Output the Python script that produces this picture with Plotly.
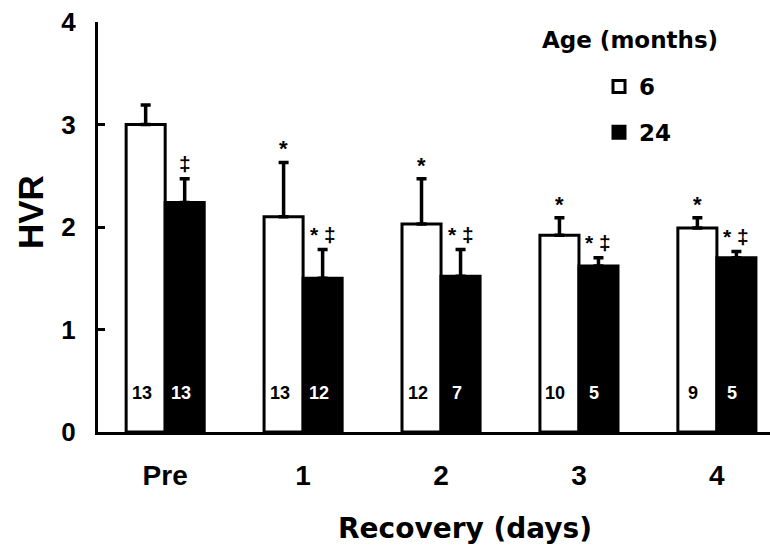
import plotly.graph_objects as go

categories = ["Pre", "1", "2", "3", "4"]
hvr_6 = [3.00, 2.10, 2.03, 1.92, 1.99]
err_6 = [0.19, 0.53, 0.44, 0.17, 0.10]
hvr_24 = [2.24, 1.50, 1.52, 1.62, 1.70]
err_24 = [0.23, 0.28, 0.26, 0.08, 0.06]
n_6 = [13, 13, 12, 10, 9]
n_24 = [13, 12, 7, 5, 5]
sig_6 = ["", "*", "*", "*", "*"]
sig_24 = ["‡", "* ‡", "* ‡", "* ‡", "* ‡"]
y_ticks = [0, 1, 2, 3, 4]

FONT = "Liberation Sans"
xs = list(range(len(categories)))
bar_w = 0.283

# plot-area geometry in px (for paper-coordinate annotations)
L, R, T, B = 98, 0, 22, 118
W, H = 770, 550
pw, ph = W - L - R, H - T - B


def px_x(px):
    return (px - L) / pw


def px_y(py):
    return (H - B - py) / ph


fig = go.Figure()
fig.add_bar(
    x=xs, y=hvr_6, width=bar_w, offset=-bar_w, name="6", legendgroup="a",
    marker=dict(color="white", line=dict(color="black", width=3)),
    error_y=dict(type="data", array=err_6, arrayminus=[0] * len(xs), symmetric=False,
                 color="black", thickness=3.5, width=5),
)
fig.add_bar(
    x=xs, y=hvr_24, width=bar_w, offset=0, name="24", legendgroup="b",
    marker=dict(color="black", line=dict(color="black", width=3)),
    error_y=dict(type="data", array=err_24, arrayminus=[0] * len(xs), symmetric=False,
                 color="black", thickness=3.5, width=5),
)

ann = []
for i in xs:
    ann.append(dict(x=i - bar_w / 2, y=0.38, xref="x", yref="y", text=str(n_6[i]),
                    showarrow=False, xshift=-4, xanchor="center", yanchor="middle",
                    font=dict(family=FONT, size=18, color="black", weight="bold")))
    ann.append(dict(x=i + bar_w / 2, y=0.38, xref="x", yref="y", text=str(n_24[i]),
                    showarrow=False, xshift=-4, xanchor="center", yanchor="middle",
                    font=dict(family=FONT, size=18, color="white", weight="bold")))
    if sig_6[i]:
        ann.append(dict(x=i - bar_w / 2, y=hvr_6[i] + err_6[i], xref="x", yref="y",
                        text=sig_6[i], showarrow=False, xanchor="center", yanchor="bottom",
                        yshift=-1,
                        font=dict(family=FONT, size=22, color="black", weight="bold")))
    ann.append(dict(x=i + bar_w / 2, y=hvr_24[i] + err_24[i], xref="x", yref="y",
                    text=sig_24[i], showarrow=False, xanchor="center", yanchor="bottom",
                    yshift=2,
                    font=dict(family=FONT, size=21, color="black", weight="bold")))

ann.append(dict(x=px_x(630), y=px_y(40), xref="paper", yref="paper", text="Age (months)",
                xanchor="center", yanchor="middle", showarrow=False,
                font=dict(family="DejaVu Sans", size=23, color="black", weight="bold")))
ann.append(dict(x=px_x(30), y=px_y(212), xref="paper", yref="paper", text="HVR", textangle=-90,
                xanchor="center", yanchor="middle", showarrow=False,
                font=dict(family=FONT, size=35, color="black", weight="bold")))
ann.append(dict(x=px_x(465), y=px_y(528), xref="paper", yref="paper", text="Recovery (days)",
                xanchor="center", yanchor="middle", showarrow=False,
                font=dict(family="DejaVu Sans", size=28, color="black", weight="bold")))

fig.update_layout(
    width=W, height=H,
    margin=dict(l=L, r=R, t=T, b=B),
    paper_bgcolor="white", plot_bgcolor="white",
    barmode="overlay",
    font=dict(family=FONT, color="black"),
    showlegend=True,
    legend=dict(x=px_x(599), y=px_y(65), xanchor="left", yanchor="top",
                bgcolor="rgba(0,0,0,0)", tracegroupgap=13,
                font=dict(family="DejaVu Sans", size=23, color="black", weight="bold")),
    annotations=ann,
    xaxis=dict(range=[-0.487, 4.385], tickvals=xs, ticktext=categories,
               showline=True, linewidth=3, linecolor="black", ticks="",
               showgrid=False, zeroline=False, ticklabelstandoff=16,
               tickfont=dict(family=FONT, size=28, color="black", weight="bold")),
    yaxis=dict(range=[0, 4], tickvals=y_ticks, ticks="inside", ticklen=7, tickwidth=3,
               tickcolor="black", showline=True, linewidth=3, linecolor="black",
               showgrid=False, zeroline=False, ticklabelstandoff=14,
               tickfont=dict(family=FONT, size=26, color="black", weight="bold")),
)

fig.write_html("out.html")
